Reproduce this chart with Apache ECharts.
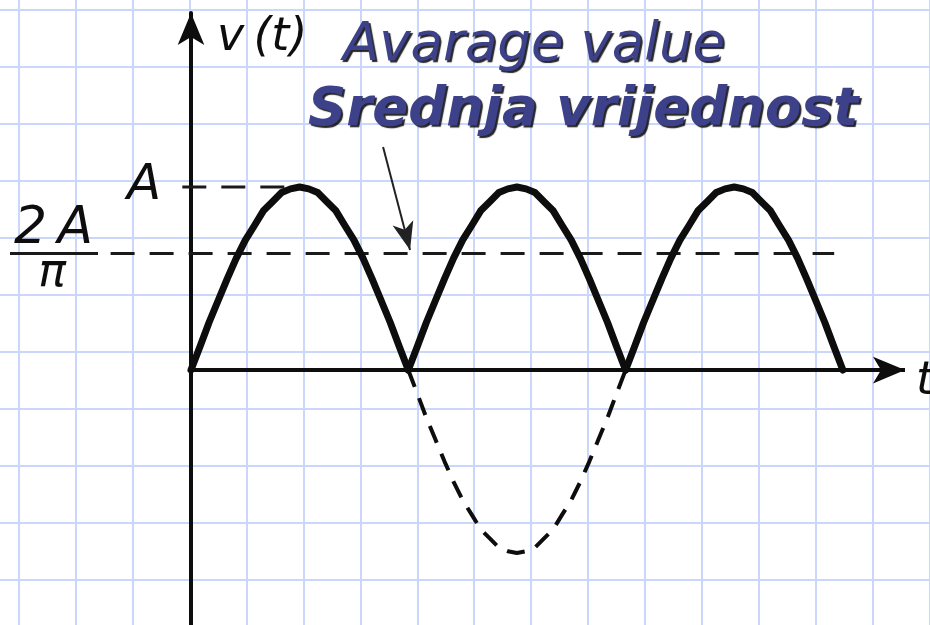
<!DOCTYPE html>
<html lang="en" style="height: 100%">
<head>
  <meta charset="utf-8">
</head>
<body style="height: 100%; margin: 0; background: #ffffff">
  <div id="container" style="width: 930px; height: 625px"></div>

  <script type="text/javascript" src="https://cdn.jsdelivr.net/npm/echarts@6/dist/echarts.min.js"></script>

  <script type="text/javascript">
    // time axis in units of half a period (0..1 is one lobe)
    var lobeSteps = [0, 0.042, 0.083, 0.125, 0.167, 0.208, 0.25, 0.292, 0.333, 0.375, 0.417, 0.458, 0.5,
      0.542, 0.583, 0.625, 0.667, 0.708, 0.75, 0.792, 0.833, 0.875, 0.917, 0.958, 1];
    // rectified (drawn) half wave, in units of A
    var halfWave = [0, 0.13, 0.26, 0.38, 0.5, 0.61, 0.71, 0.79, 0.87, 0.92, 0.97, 0.99, 1,
      0.99, 0.97, 0.92, 0.87, 0.79, 0.71, 0.61, 0.5, 0.38, 0.26, 0.13, 0];
    // the removed negative half wave, drawn dashed
    var dashedWave = [0, -0.13, -0.26, -0.38, -0.5, -0.61, -0.71, -0.79, -0.87, -0.92, -0.97, -0.99, -1,
      -0.99, -0.97, -0.92, -0.87, -0.79, -0.71, -0.61, -0.5, -0.38, -0.26, -0.13, 0];
    var lobeStarts = [0, 1, 2];
    var dashedStart = 1;

    var peakLevel = 1;        // A
    var avgLevel = 0.637;     // 2A / pi
    var peakLineX = [-0.04, 0.47];
    var avgBarX = [-0.833, -0.428];
    var avgLineX = [-0.37, 2.96];
    var timeAxisEnd = 3.286;
    var valueAxisRange = [-1.393, 1.951];
    var pointerFrom = [0.884, 1.219];
    var pointerTo = [1.008, 0.656];

    var labelTitle = 'Avarage value';
    var labelSubtitle = 'Srednja vrijednost';

    var dom = document.getElementById('container');
    var myChart = echarts.init(dom, null, { renderer: 'canvas' });
    var option;

    var ink = '#0d0d0d';
    var titleColor = '#3d4189';
    var paperLine = { show: true, showMaxLine: false, lineStyle: { color: '#cad6fb', width: 2 } };
    var hidden = { show: false };

    function lobe(start, values) {
      return lobeSteps.map(function (s, i) { return [start + s, values[i]]; });
    }

    var series = [];
    lobeStarts.forEach(function (start) {
      series.push({
        type: 'line',
        data: lobe(start, halfWave),
        symbol: 'none',
        z: 6,
        lineStyle: { color: ink, width: 7, cap: 'round', join: 'round' }
      });
    });
    series.push({
      type: 'line',
      data: lobe(dashedStart, dashedWave),
      symbol: 'none',
      z: 5,
      lineStyle: { color: ink, width: 4, type: [18, 12], join: 'round' }
    });
    // time axis with arrow
    series.push({
      type: 'line',
      data: [],
      z: 5,
      markLine: {
        silent: true,
        symbol: ['none', 'arrow'],
        symbolSize: [20, 32],
        label: { show: false },
        lineStyle: { color: ink, width: 4, type: 'solid' },
        data: [[{ coord: [0, 0] }, { coord: [timeAxisEnd, 0] }]]
      }
    });
    // A level
    series.push({
      type: 'line',
      data: [[peakLineX[0], peakLevel], [peakLineX[1], peakLevel]],
      symbol: 'none',
      z: 4,
      lineStyle: { color: '#1a1a1a', width: 3, type: [24, 15] }
    });
    // fraction bar of 2A/pi
    series.push({
      type: 'line',
      data: [[avgBarX[0], avgLevel], [avgBarX[1], avgLevel]],
      symbol: 'none',
      z: 4,
      lineStyle: { color: '#1a1a1a', width: 3 }
    });
    // 2A/pi level with the pointer arrow
    series.push({
      type: 'line',
      data: [[avgLineX[0], avgLevel], [avgLineX[1], avgLevel]],
      symbol: 'none',
      z: 4,
      lineStyle: { color: '#1a1a1a', width: 3, type: [24, 15] },
      markLine: {
        silent: true,
        symbol: ['none', 'arrow'],
        symbolSize: [16, 28],
        label: { show: false },
        lineStyle: { color: '#222222', width: 2, type: 'solid' },
        data: [[{ coord: pointerFrom }, { coord: pointerTo }]]
      }
    });

    var handFont = 'italic 50px "DejaVu Sans"';
    var shadow = { textShadowColor: 'rgba(0,0,0,0.85)', textShadowBlur: 1, textShadowOffsetX: 2, textShadowOffsetY: 2 };

    option = {
      animation: false,
      backgroundColor: '#ffffff',
      grid: [
        { left: 0, right: 0, top: 13, bottom: 0 },
        // squared paper: vertical rules
        { left: 19, right: 0, top: 0, bottom: 0 },
        // squared paper: horizontal rules
        { left: 0, right: 0, top: 9.5, bottom: 0 }
      ],
      xAxis: [
        {
          type: 'value', gridIndex: 0, min: -0.879, max: 3.401,
          axisLine: hidden, axisTick: hidden, axisLabel: hidden, splitLine: hidden
        },
        {
          type: 'value', gridIndex: 1, min: 0, max: 16.01, interval: 1,
          axisLine: hidden, axisTick: hidden, axisLabel: hidden, splitLine: paperLine
        },
        {
          type: 'value', gridIndex: 2, min: 0, max: 1,
          axisLine: hidden, axisTick: hidden, axisLabel: hidden, splitLine: hidden
        }
      ],
      yAxis: [
        {
          type: 'value', gridIndex: 0, min: valueAxisRange[0], max: valueAxisRange[1],
          axisLine: {
            show: true, onZero: true,
            symbol: ['none', 'arrow'], symbolSize: [20, 32],
            lineStyle: { color: ink, width: 4 }
          },
          axisTick: hidden, axisLabel: hidden, splitLine: hidden
        },
        {
          type: 'value', gridIndex: 1, min: 0, max: 1,
          axisLine: hidden, axisTick: hidden, axisLabel: hidden, splitLine: hidden
        },
        {
          type: 'value', gridIndex: 2, min: 0, max: 10.8, interval: 1, inverse: true,
          axisLine: hidden, axisTick: hidden, axisLabel: hidden, splitLine: paperLine
        }
      ],
      graphic: [
        { type: 'text', z: 10, style: { text: 'v\u2009(t)', x: 217, y: 38, font: 'italic 46px "DejaVu Sans"', fill: ink, textVerticalAlign: 'middle' } },
        { type: 'text', z: 10, style: { text: 'A', x: 127, y: 186, font: handFont, fill: ink, textVerticalAlign: 'middle' } },
        { type: 'text', z: 10, style: { text: '2\u2009A', x: 14, y: 229, font: 'italic 52px "DejaVu Sans"', fill: ink, textVerticalAlign: 'middle' } },
        { type: 'text', z: 10, style: { text: '\u03c0', x: 52, y: 274, font: 'italic 46px "DejaVu Sans"', fill: ink, textAlign: 'center', textVerticalAlign: 'middle' } },
        { type: 'text', z: 10, style: { text: 't', x: 916, y: 382, font: 'italic 46px "DejaVu Sans"', fill: ink, textVerticalAlign: 'middle' } },
        {
          type: 'text', z: 10,
          style: Object.assign({ text: labelTitle, x: 343, y: 46, font: 'italic 53px "DejaVu Sans"', fill: titleColor, textVerticalAlign: 'middle' }, shadow)
        },
        {
          type: 'text', z: 10,
          style: Object.assign({ text: labelSubtitle, x: 308, y: 111, font: 'italic bold 53px "DejaVu Sans"', fill: titleColor, textVerticalAlign: 'middle' }, shadow)
        }
      ],
      series: series
    };

    if (option && typeof option === 'object') {
      myChart.setOption(option);
    }

    window.addEventListener('resize', myChart.resize);
  </script>
</body>
</html>
